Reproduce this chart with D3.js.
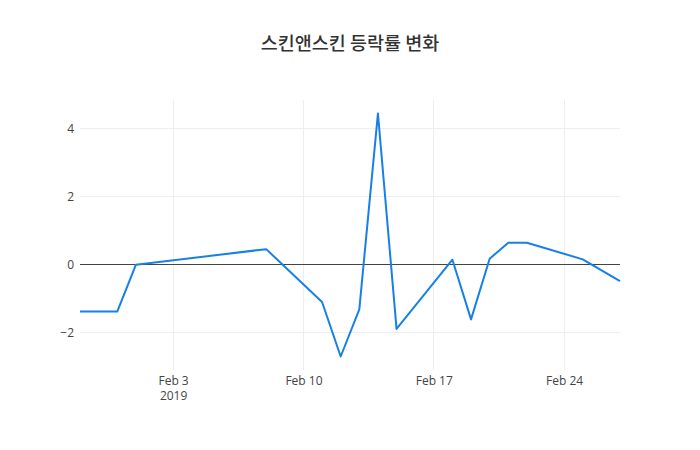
<!DOCTYPE html>
<html>
<head>
<meta charset="utf-8">
<script src="https://cdn.jsdelivr.net/npm/d3@7"></script>
<style>
  body { margin: 0; background: #fff; }
  text { font-family: "Open Sans", "Noto Sans CJK KR", sans-serif; }
</style>
</head>
<body>
<div id="chart-area"></div>
<script>
// daily change rate (%) of 스킨앤스킨
const dates = [
    "2019-01-29", "2019-01-31", "2019-02-01", "2019-02-08", "2019-02-11",
    "2019-02-12", "2019-02-13", "2019-02-14", "2019-02-15", "2019-02-18",
    "2019-02-19", "2019-02-20", "2019-02-21", "2019-02-22", "2019-02-25",
    "2019-02-27"
];
const changes = [
    -1.37, -1.37, 0.0, 0.46, -1.09,
    -2.69, -1.31, 4.44, -1.88, 0.15,
    -1.60, 0.18, 0.65, 0.65, 0.16,
    -0.48
];
const xTicks = ["2019-02-03", "2019-02-10", "2019-02-17", "2019-02-24"];
const yTicks = [-2, 0, 2, 4];
const title = "스킨앤스킨 등락률 변화";

const width = 700;
const height = 450;
const margins = { top: 100, right: 80, bottom: 80, left: 80 };
const graphWidth = width - margins.left - margins.right;
const graphHeight = height - margins.top - margins.bottom;

const parseDate = d3.utcParse("%Y-%m-%d");
const data = dates.map((d, i) => ({ date: parseDate(d), value: changes[i] }));

const svg = d3.select("#chart-area")
    .append("svg")
        .attr("width", width)
        .attr("height", height);

svg.append("text")
    .attr("x", width / 2)
    .attr("y", 50)
    .attr("text-anchor", "middle")
    .attr("font-size", 18.5)
    .attr("font-weight", 500)
    .attr("fill", "#333")
    .style("font-family", "'Noto Sans CJK KR', sans-serif")
    .text(title);

const chart = svg.append("g")
    .attr("transform", `translate(${margins.left}, ${margins.top})`);

const xMapping = d3.scaleUtc()
    .domain(d3.extent(data, d => d.date))
    .range([0, graphWidth]);

// plotly-like padding: 5% of the pixel height on both sides
const yExtent = d3.extent(changes);
const pad = (yExtent[1] - yExtent[0]) * 0.05 / 0.9;
const yMapping = d3.scaleLinear()
    .domain([yExtent[0] - pad, yExtent[1] + pad])
    .range([graphHeight, 0]);

// grid lines
chart.append("g")
    .selectAll("line")
    .data(xTicks.map(parseDate))
    .enter()
    .append("line")
    .attr("x1", d => xMapping(d))
    .attr("x2", d => xMapping(d))
    .attr("y1", 0)
    .attr("y2", graphHeight)
    .attr("stroke", "#eee")
    .attr("shape-rendering", "crispEdges");

chart.append("g")
    .selectAll("line")
    .data(yTicks.filter(t => t !== 0))
    .enter()
    .append("line")
    .attr("x1", 0)
    .attr("x2", graphWidth)
    .attr("y1", d => yMapping(d))
    .attr("y2", d => yMapping(d))
    .attr("stroke", "#eee")
    .attr("shape-rendering", "crispEdges");

// zero line
chart.append("line")
    .attr("x1", 0)
    .attr("x2", graphWidth)
    .attr("y1", yMapping(0))
    .attr("y2", yMapping(0))
    .attr("stroke", "#444")
    .attr("stroke-width", 1)
    .attr("shape-rendering", "crispEdges");

// axes (labels only, like plotly)
const yAxis = chart.append("g")
    .call(d3.axisLeft(yMapping).tickValues(yTicks).tickSize(0).tickPadding(6)
        .tickFormat(d => d < 0 ? "\u2212" + Math.abs(d) : d));
yAxis.select(".domain").remove();
yAxis.selectAll("text").attr("font-size", 12).attr("fill", "#444")
    .style("font-family", "'Open Sans', sans-serif");

const xAxis = chart.append("g")
    .attr("transform", `translate(0, ${graphHeight})`)
    .call(d3.axisBottom(xMapping).tickValues(xTicks.map(parseDate)).tickSize(0).tickPadding(6)
        .tickFormat(d3.utcFormat("%b %-d")));
xAxis.select(".domain").remove();
xAxis.selectAll("text").attr("font-size", 12).attr("fill", "#444")
    .style("font-family", "'Open Sans', sans-serif");

// year as a second line under the first tick, same text element
xAxis.selectAll(".tick text")
    .filter((d, i) => i === 0)
    .each(function(d) {
        const t = d3.select(this);
        const label = t.text();
        t.text(null);
        t.append("tspan").attr("x", 0).text(label);
        t.append("tspan").attr("x", 0).attr("dy", "1.3em").text(d3.utcFormat("%Y")(d));
    });

// the series
chart.append("path")
    .datum(data)
    .attr("fill", "none")
    .attr("stroke", "#1780e6")
    .attr("stroke-width", 2)
    .attr("stroke-linejoin", "round")
    .attr("d", d3.line()
        .x(d => xMapping(d.date))
        .y(d => yMapping(d.value)));
</script>
</body>
</html>
